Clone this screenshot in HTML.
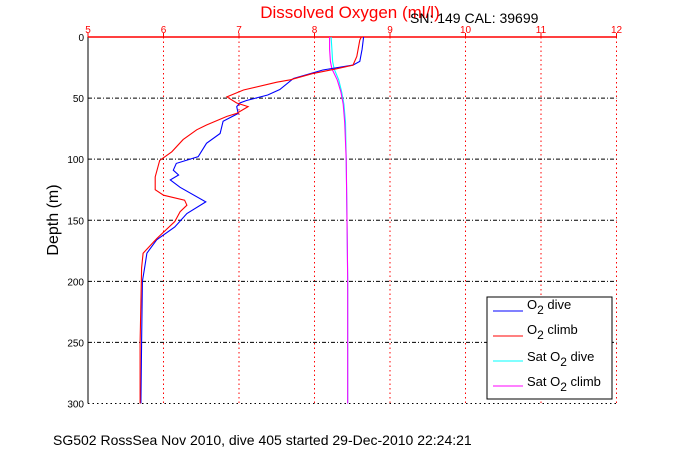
<!DOCTYPE html>
<html><head><meta charset="utf-8"><style>
body{margin:0;background:#fff;width:681px;height:454px;overflow:hidden;font-family:"Liberation Sans",sans-serif}
svg text{font-family:"Liberation Sans",sans-serif}
</style></head><body>
<svg id="chart" width="681" height="454" xmlns="http://www.w3.org/2000/svg">
<g id="grid"></g>
<g id="axes"></g>
<g id="series"></g>
<text x="350" y="18" fill="#f00" font-size="17" text-anchor="middle">Dissolved Oxygen (ml/l)</text>
<text x="410" y="23" fill="#000" font-size="14">SN: 149  CAL: 39699</text>
<text transform="translate(58,220) rotate(-90)" font-size="16" text-anchor="middle">Depth (m)</text>
<text x="53" y="445" font-size="14">SG502 RossSea Nov 2010, dive 405 started 29-Dec-2010 22:24:21</text>
<g>
<rect x="487" y="297" width="125" height="102" fill="#fff" stroke="#000"/>
<line x1="493" x2="523" y1="311" y2="311" stroke="#00f"/>
<text x="527" y="309" font-size="13">O<tspan dy="5" font-size="12">2</tspan><tspan dy="-5"> dive</tspan></text>
<line x1="493" x2="523" y1="336" y2="336" stroke="#f00"/>
<text x="527" y="334" font-size="13">O<tspan dy="5" font-size="12">2</tspan><tspan dy="-5"> climb</tspan></text>
<line x1="493" x2="523" y1="361" y2="361" stroke="#0ff"/>
<text x="527" y="361" font-size="13">Sat O<tspan dy="5" font-size="12">2</tspan><tspan dy="-5"> dive</tspan></text>
<line x1="493" x2="523" y1="386" y2="386" stroke="#f0f"/>
<text x="527" y="386" font-size="13">Sat O<tspan dy="5" font-size="12">2</tspan><tspan dy="-5"> climb</tspan></text>
</g>
</svg>
<script>
const xTicks=[5,6,7,8,9,10,11,12];
const yTicks=[0,50,100,150,200,250,300];
const diveDepth=[0,10,20,23,27,34,43,47.5,52,54,57,62.5,69,79,87,98,103.5,109,113,117,123,135,144.5,155.5,166,177,189,200,250,300];
const diveO2=[8.65,8.63,8.6,8.51,8.11,7.72,7.54,7.38,7.1,7.01,6.97,6.99,6.79,6.75,6.57,6.46,6.17,6.13,6.2,6.09,6.22,6.56,6.31,6.15,5.91,5.78,5.75,5.72,5.71,5.7];
const climbDepth=[0,2.5,16,23,26,30,35,37,43.4,49,54,57,62.5,65,72,76,84,94,101,114.5,125,129.5,133.6,137.7,143,151,165,177,189,250,300];
const climbO2=[8.62,8.6,8.56,8.51,8.29,7.97,7.68,7.5,7.06,6.84,6.97,7.12,6.97,6.84,6.57,6.44,6.26,6.11,5.95,5.89,5.89,6.0,6.28,6.31,6.22,6.15,5.91,5.73,5.71,5.69,5.69];
const satDepth=[0,10,20,26,35,45,55,70,100,150,200,250,300];
const satDive=[8.22,8.23,8.24,8.26,8.32,8.36,8.39,8.41,8.42,8.43,8.44,8.44,8.44];
const satClimb=[8.2,8.2,8.21,8.23,8.3,8.35,8.38,8.4,8.42,8.43,8.44,8.44,8.44];
const X0=88,X1=616.5,Y0=37,Y1=403.5;
const xs=v=>X0+(v-5)/7*(X1-X0);
const ys=d=>Y0+d/300*(Y1-Y0);
const NS="http://www.w3.org/2000/svg";
function mk(tag,parent,attrs){const e=document.createElementNS(NS,tag);for(const k in attrs)e.setAttribute(k,attrs[k]);parent.appendChild(e);return e;}
const grid=document.getElementById('grid'),axes=document.getElementById('axes'),ser=document.getElementById('series');
xTicks.forEach(t=>{
 const l=mk('line',grid,{x1:xs(t),x2:xs(t),y1:Y0,y2:Y1,stroke:'#f00','stroke-dasharray':'1.5,3'});
 
 
 const tk=mk('line',axes,{x1:xs(t),x2:xs(t),y1:Y0-4,y2:Y0,stroke:'#f00'});
 
 
 const tx=mk('text',axes,{x:xs(t),y:Y0-4,fill:'#f00','font-size':10,'text-anchor':'middle'});
 tx.textContent=t;
 
 
});
yTicks.forEach(t=>{
 if(t>0&&t<300){const l=mk('line',grid,{x1:X0,x2:X1,y1:ys(t),y2:ys(t),stroke:'#000','stroke-dasharray':'4,2,1,2'});
 
 }
 const tx=mk('text',axes,{x:X0-4,y:ys(t)+4,'font-size':10,'text-anchor':'end'});
 tx.textContent=t;
 
 
});
const bl=mk('line',axes,{x1:X0,x2:X1,y1:Y1,y2:Y1,stroke:'#000','stroke-dasharray':'1.5,3'});


const ya=mk('line',axes,{x1:X0,x2:X0,y1:Y0,y2:Y1,stroke:'#000'});


const xa=mk('line',axes,{x1:X0,x2:X1,y1:Y0,y2:Y0,stroke:'#f00','stroke-width':1.5});


function line(d,v,color,name){
 const pts=d.map((dd,i)=>xs(v[i]).toFixed(1)+','+ys(dd).toFixed(1)).join(' ');
 const p=mk('polyline',ser,{points:pts,fill:'none',stroke:color,'stroke-width':1.1});
 
 
}
line(satDepth,satDive,'#0ff','sat-o2-dive-line');
line(satDepth,satClimb,'#f0f','sat-o2-climb-line');
line(diveDepth,diveO2,'#00f','o2-dive-line');
line(climbDepth,climbO2,'#f00','o2-climb-line');
</script>
</body></html>
